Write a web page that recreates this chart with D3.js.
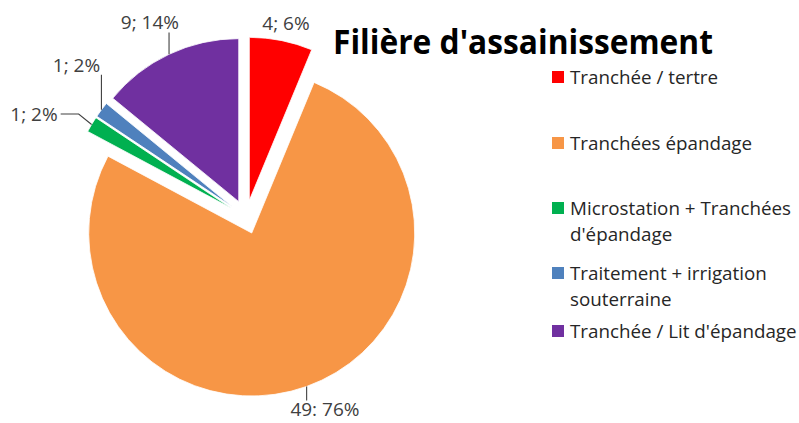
<!DOCTYPE html>
<html>
<head>
<meta charset="utf-8">
<script src="https://cdn.jsdelivr.net/npm/d3@7"></script>
<style>
  html, body { margin: 0; padding: 0; background: #fff; }
  svg { display: block; }
  text { font-family: "Open Sans", "Noto Sans", sans-serif; }
</style>
</head>
<body>
<svg id="chart" width="799" height="423"></svg>
<script>
// ---- data ----
const title = "Filière d'assainissement";
const categories = [
  "Tranchée / tertre",
  "Tranchées épandage",
  "Microstation + Tranchées d'épandage",
  "Traitement + irrigation souterraine",
  "Tranchée / Lit d'épandage"
];
const counts = [4, 49, 1, 1, 9];
const percents = [6, 76, 2, 2, 14];
const separators = [";", ":", ";", ";", ";"];
const colors = ["#FF0000", "#F79646", "#00B050", "#4F81BD", "#7030A0"];

// ---- layout ----
const W = 799, H = 423;
const cx = 246, cy = 217, R = 163, explode = 17;
const labelAngleDeg = [11.65, 157.7, 295.9, 311.9, 333.7];
const labelDist = [198, 208, 235.7, 227.7, 216.9];
const legendRowY = [77, 143, 208, 273, 331]; // square centres
const legendLineH = 26;

const svg = d3.select("#chart");

const pie = d3.pie().sort(null).value(d => d).startAngle(0).endAngle(2 * Math.PI);
const arcs = pie(counts);
const arc = d3.arc().innerRadius(0).outerRadius(R);

const g = svg.append("g").attr("transform", `translate(${cx},${cy})`);

arcs.forEach((a, i) => {
  const mid = (a.startAngle + a.endAngle) / 2;
  const dx = explode * Math.sin(mid), dy = -explode * Math.cos(mid);
  g.append("path")
    .attr("d", arc(a))
    .attr("transform", `translate(${dx},${dy})`)
    .attr("fill", colors[i])
    .attr("stroke", "#fff")
    .attr("stroke-width", 0.8);
});

// ---- data labels ----
const labelFont = 19;
const labelsG = svg.append("g");
arcs.forEach((a, i) => {
  const mid = (a.startAngle + a.endAngle) / 2;
  const la = labelAngleDeg[i] * Math.PI / 180;
  const lx = cx + labelDist[i] * Math.sin(la);
  const ly = cy - labelDist[i] * Math.cos(la);
  const t = labelsG.append("text")
    .attr("x", lx).attr("y", ly)
    .attr("dy", "0.36em")
    .attr("text-anchor", "middle")
    .attr("font-size", labelFont)
    .attr("fill", "#404040")
    .text(`${counts[i]}${separators[i]} ${percents[i]}%`);
  // leader line
  const pr = R + explode;
  const px = cx + pr * Math.sin(mid), py = cy - pr * Math.cos(mid);
  const bb = t.node().getBBox();
  const top = ly - 0.36 * labelFont - 2, bottom = ly + 0.36 * labelFont + 3;
  const left = bb.x - 3, right = bb.x + bb.width + 3;
  let pts;
  if (py > top && py <= bottom + 6 && (px > right || px < left)) {
    const ax = px > right ? right : left;
    const ay = ly;
    const ex = ax + (px > right ? 18 : -18);
    pts = [[ax, ay], [ex, ay], [px, py]];
  } else {
    const ax = Math.max(left, Math.min(right, px));
    const ay = Math.max(top, Math.min(bottom, py));
    pts = [[ax, ay], [px, py]];
  }
  const len = Math.hypot(pts[0][0] - px, pts[0][1] - py);
  if (len > 8) {
    labelsG.append("path")
      .attr("d", d3.line()(pts))
      .attr("fill", "none")
      .attr("stroke", "#404040")
      .attr("stroke-width", 1.1);
  }
});

// ---- title ----
const titleText = svg.append("text")
  .attr("x", 333).attr("y", 54)
  .attr("font-size", 34)
  .attr("font-weight", 700)
  .attr("fill", "#000")
  .text(title);
titleText.attr("textLength", 380).attr("lengthAdjust", "spacingAndGlyphs");

// ---- legend ----
const legendX = 552, textX = 570;
const legendFont = 18.8;
const lg = svg.append("g");
const measure = svg.append("text").attr("font-size", legendFont).attr("visibility", "hidden");
function textW(s) { measure.text(s); return measure.node().getComputedTextLength(); }
const maxW = textW("Tranchée / Lit d'épandage") + 4;
function wrap(s) {
  const words = s.split(" ");
  const lines = [];
  let cur = "";
  words.forEach(w => {
    const tryS = cur ? cur + " " + w : w;
    if (textW(tryS) > maxW && cur) { lines.push(cur); cur = w; }
    else cur = tryS;
  });
  if (cur) lines.push(cur);
  return lines;
}
categories.forEach((c, i) => {
  const y0 = legendRowY[i];
  lg.append("rect")
    .attr("x", legendX).attr("y", y0 - 6)
    .attr("width", 12).attr("height", 12)
    .attr("fill", colors[i]);
  const lines = wrap(c);
  lines.forEach((ln, j) => {
    lg.append("text")
      .attr("x", textX).attr("y", y0 + 6.5 + j * legendLineH)
      .attr("font-size", legendFont)
      .attr("fill", "#262626")
      .text(ln);
  });
});
measure.remove();
</script>
</body>
</html>
